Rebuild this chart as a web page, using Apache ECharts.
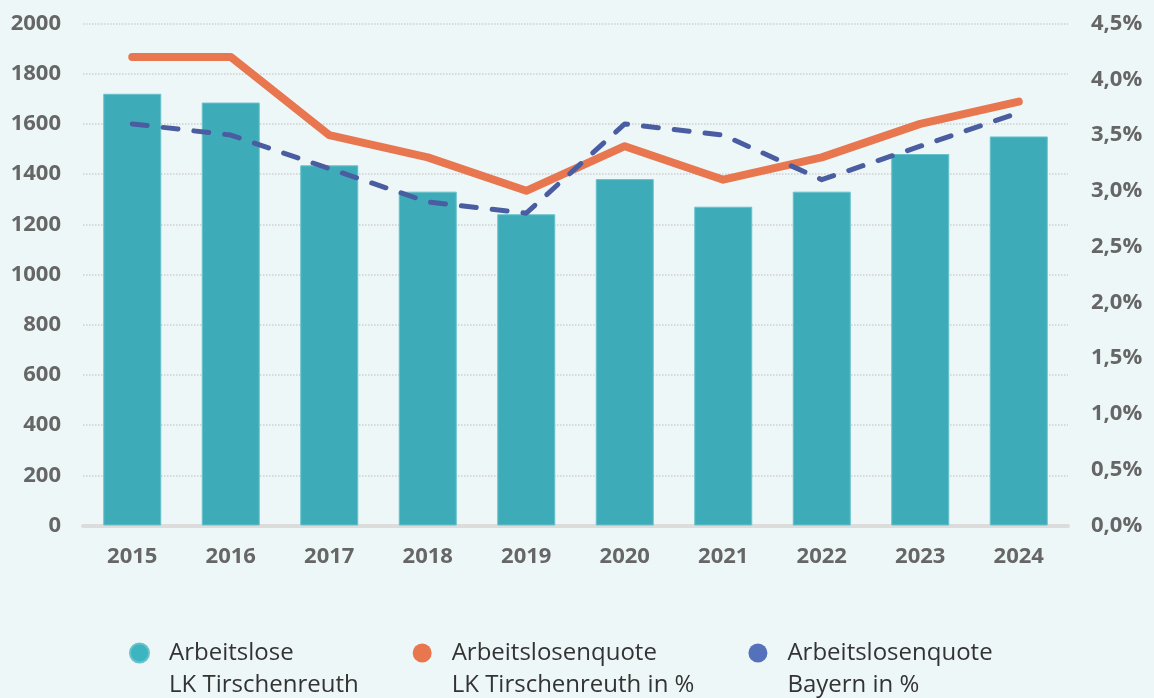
<!DOCTYPE html>
<html>
<head>
<meta charset="utf-8">
<script src="https://cdn.jsdelivr.net/npm/echarts@6/dist/echarts.min.js"></script>
<style>
html,body{margin:0;padding:0;background:#eef7f8;}
#chart{width:1154px;height:698px;}
</style>
</head>
<body>
<div id="chart"></div>
<script>
const years = ['2015','2016','2017','2018','2019','2020','2021','2022','2023','2024'];
const arbeitslose = [1720, 1685, 1435, 1330, 1240, 1380, 1270, 1330, 1480, 1550];
const quoteTirschenreuth = [4.2, 4.2, 3.5, 3.3, 3.0, 3.4, 3.1, 3.3, 3.6, 3.8];
const quoteBayern = [3.6, 3.5, 3.2, 2.9, 2.8, 3.6, 3.5, 3.1, 3.4, 3.7];
const seriesNames = ['Arbeitslose\nLK Tirschenreuth', 'Arbeitslosenquote\nLK Tirschenreuth in %', 'Arbeitslosenquote\nBayern in %'];

const labelFont = { color: '#666666', fontFamily: 'Open Sans', fontWeight: 'bold', fontSize: 22 };

const chart = echarts.init(document.getElementById('chart'), null, { renderer: 'canvas' });
chart.setOption({
  backgroundColor: '#eef7f8',
  animation: false,
  grid: { left: 83, right: 86, top: 23.5, bottom: 172.5, containLabel: false },
  legend: {
    left: 129, top: 605, padding: 0,
    itemGap: 54, itemWidth: 19, itemHeight: 19, icon: 'circle',
    formatter: name => '{p| }\n' + name,
    textStyle: {
      color: '#333333', fontFamily: 'Open Sans', fontSize: 24, lineHeight: 32, padding: [0, 0, 0, 15],
      rich: { p: { fontSize: 24, lineHeight: 32 } }
    },
    data: [
      { name: seriesNames[0], itemStyle: { color: '#3db5c0' } },
      { name: seriesNames[1], itemStyle: { color: '#e8764e' } },
      { name: seriesNames[2], itemStyle: { color: '#5671bc' } }
    ]
  },
  xAxis: {
    type: 'category', data: years,
    axisLine: { show: true, lineStyle: { color: '#dcdcdc', width: 4 } },
    axisTick: { show: false },
    axisLabel: Object.assign({ margin: 20 }, labelFont)
  },
  yAxis: [
    {
      type: 'value', min: 0, max: 2000, interval: 200,
      axisLine: { show: false }, axisTick: { show: false },
      axisLabel: Object.assign({ margin: 22, formatter: v => String(v) }, labelFont),
      splitLine: { show: true, lineStyle: { color: '#cfcfcf', type: 'dotted', width: 1.5 } }
    },
    {
      type: 'value', min: 0, max: 4.5, interval: 0.5, position: 'right',
      axisLine: { show: false }, axisTick: { show: false },
      axisLabel: Object.assign({ margin: 23, formatter: v => v.toFixed(1).replace('.', ',') + '%' }, labelFont),
      splitLine: { show: false }
    }
  ],
  series: [
    {
      name: seriesNames[0], type: 'bar', data: arbeitslose, barWidth: 58,
      itemStyle: { color: '#3eacb8', borderColor: '#66c2cb', borderWidth: 1 }
    },
    {
      name: seriesNames[1], type: 'line', yAxisIndex: 1, data: quoteTirschenreuth,
      showSymbol: false, symbol: 'none',
      lineStyle: { color: '#e8764e', width: 8, cap: 'round', join: 'round' },
      itemStyle: { color: '#e8764e' }
    },
    {
      name: seriesNames[2], type: 'line', yAxisIndex: 1, data: quoteBayern,
      showSymbol: false, symbol: 'none',
      lineStyle: { color: '#4a5da0', width: 5, type: [15, 16], cap: 'round', join: 'round' },
      itemStyle: { color: '#4a5da0' }
    }
  ]
});
</script>
</body>
</html>
